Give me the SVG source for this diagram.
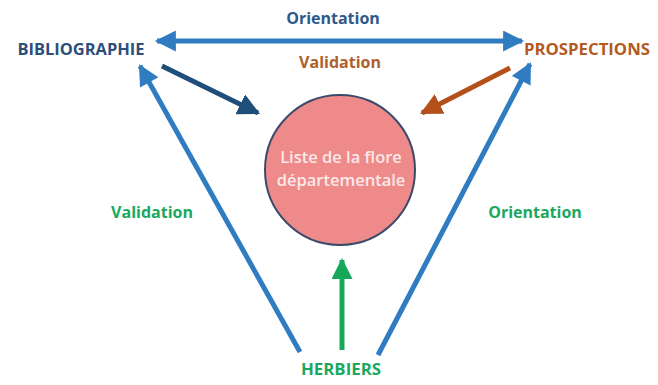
<svg xmlns="http://www.w3.org/2000/svg" width="658" height="385" viewBox="0 0 658 385">
<style>
.t{font-family:"Open Sans","Liberation Sans",sans-serif;font-weight:bold;font-size:16px;text-anchor:middle}
.c{font-family:"Open Sans","Liberation Sans",sans-serif;font-weight:600;font-size:16.5px;text-anchor:middle;fill:#fbe8e8}
.blue{stroke:#2f7cc1;stroke-width:5;fill:none}
</style>
<defs>
<marker id="hb" viewBox="0 0 10 10" refX="9" refY="5" markerWidth="4.6" markerHeight="4.2" orient="auto-start-reverse" markerUnits="strokeWidth"><path d="M0,0L10,5L0,10z" fill="#2f7cc1"/></marker>
<marker id="hd" viewBox="0 0 10 10" refX="9" refY="5" markerWidth="4.4" markerHeight="4.4" orient="auto" markerUnits="strokeWidth"><path d="M0,0L10,5L0,10z" fill="#1f4e79"/></marker>
<marker id="ho" viewBox="0 0 10 10" refX="9" refY="5" markerWidth="4.4" markerHeight="4.4" orient="auto" markerUnits="strokeWidth"><path d="M0,0L10,5L0,10z" fill="#b5501b"/></marker>
<marker id="hg" viewBox="0 0 10 10" refX="9" refY="5" markerWidth="4.4" markerHeight="4.2" orient="auto" markerUnits="strokeWidth"><path d="M0,0L10,5L0,10z" fill="#16a85a"/></marker>
</defs>
<rect width="658" height="385" fill="#fff"/>
<g id="connectors">
<line class="blue" x1="157" y1="41" x2="522" y2="41" marker-start="url(#hb)" marker-end="url(#hb)"/>
<line class="blue" x1="300" y1="352" x2="140" y2="66" marker-end="url(#hb)"/>
<line class="blue" x1="378" y1="355" x2="530" y2="64" marker-end="url(#hb)"/>
<line x1="162" y1="66" x2="258" y2="113" stroke="#1f4e79" stroke-width="5" marker-end="url(#hd)"/>
<line x1="510" y1="68" x2="422" y2="113" stroke="#b5501b" stroke-width="5" marker-end="url(#ho)"/>
<line x1="342" y1="350" x2="342" y2="260" stroke="#16a85a" stroke-width="5" marker-end="url(#hg)"/>
<text class="t" x="333" y="24" fill="#2e5a8a">Orientation</text>
<text class="t" x="340" y="68" fill="#b0602a">Validation</text>
<text class="t" x="152" y="218" fill="#1aa860">Validation</text>
<text class="t" x="535" y="218" fill="#1aa860">Orientation</text>
</g>
<g id="bibliographie"><text class="t" x="81" y="55" fill="#2d4e7a" textLength="127" lengthAdjust="spacingAndGlyphs">BIBLIOGRAPHIE</text></g>
<g id="prospections"><text class="t" x="587" y="55" fill="#b35a21" textLength="126" lengthAdjust="spacingAndGlyphs">PROSPECTIONS</text></g>
<g id="herbiers"><text class="t" x="341" y="375" fill="#1aa860" textLength="80" lengthAdjust="spacingAndGlyphs">HERBIERS</text></g>
<g id="liste">
<circle cx="340" cy="170" r="75" fill="#ee8a8a" stroke="#3b4a6b" stroke-width="2"/>
<text class="c" x="341" y="163">Liste de la flore</text>
<text class="c" x="341" y="186">départementale</text>
</g>
</svg>
